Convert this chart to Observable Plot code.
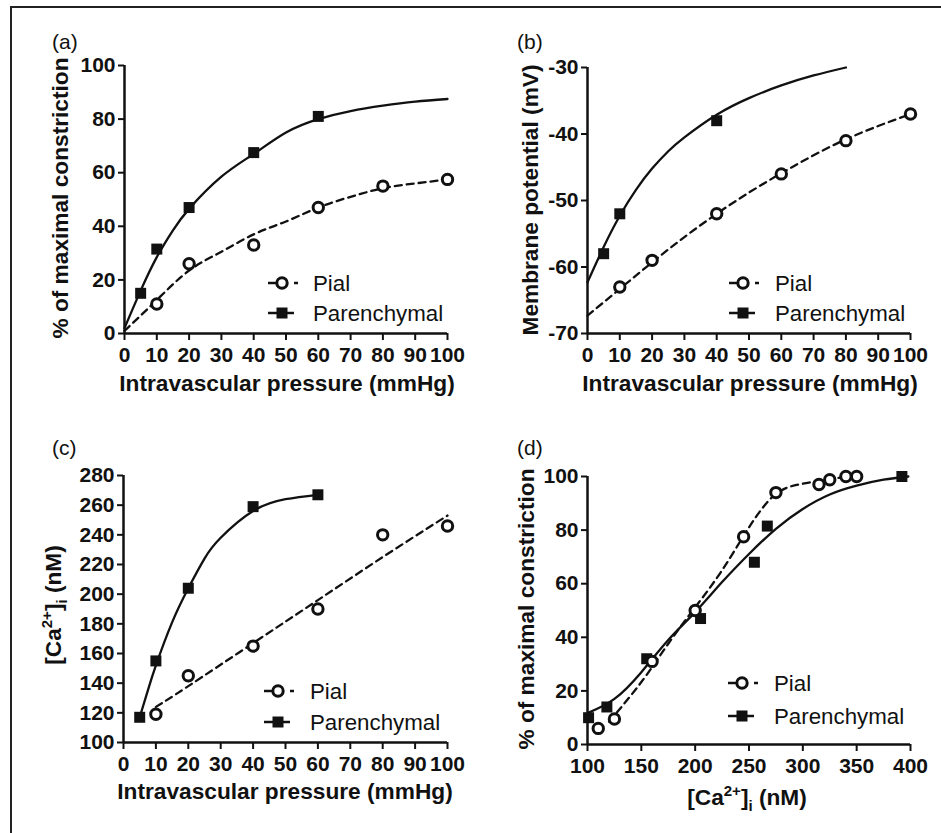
<!DOCTYPE html>
<html>
<head>
<meta charset="utf-8">
<script src="https://cdn.jsdelivr.net/npm/d3@7"></script>
<script src="https://cdn.jsdelivr.net/npm/@observablehq/plot@0.6"></script>
<style>
  html, body { margin: 0; padding: 0; background: #fff; }
  #fig { position: relative; width: 941px; height: 833px; overflow: hidden; font-family: "Liberation Sans", Arial, sans-serif; color: #111; }
  .border { position: absolute; left: 10px; top: 6px; right: -4px; bottom: -4px; border-top: 2.5px solid #222; border-left: 2.5px solid #222; }
  .panel { position: absolute; }
  .letter { position: absolute; font-size: 21px; line-height: 20px; white-space: nowrap; }
  .ytitle, .xtitle { position: absolute; font-size: 22.7px; font-weight: bold; white-space: nowrap; line-height: 22px; }
  .ytitle { transform: translate(-50%, -50%) rotate(-90deg); }
  .xtitle { transform: translate(-50%, -50%); }
  sup, sub { font-size: 15px; line-height: 0; }
  svg.legend { position: absolute; left: 0; top: 0; overflow: visible; }
</style>
</head>
<body>
<div id="fig"><div class="border"></div></div>
<script>
// ---------- Panel (a): % of maximal constriction vs intravascular pressure ----------
const aPialX = [10, 20, 40, 60, 80, 100];
const aPialY = [11, 26, 33, 47, 55, 57.5];
const aParX = [5, 10, 20, 40, 60];
const aParY = [15, 31.5, 47, 67.5, 81];
const aPialFitX = [0, 10, 20, 30, 40, 50, 60, 70, 80, 90, 100];
const aPialFitY = [1, 12.5, 23.5, 30.5, 37, 41.8, 47, 51, 54.2, 56, 57.5];
const aParFitX = [0, 5, 10, 15, 20, 30, 40, 50, 60, 70, 80, 90, 100];
const aParFitY = [2, 16, 28.5, 38.5, 46.5, 58.5, 67, 75, 80, 83, 85, 86.5, 87.5];

// ---------- Panel (b): membrane potential vs intravascular pressure ----------
const bPialX = [10, 20, 40, 60, 80, 100];
const bPialY = [-63, -59, -52, -46, -41, -37];
const bParX = [5, 10, 40];
const bParY = [-58, -52, -38];
const bPialFitX = [0, 10, 20, 30, 40, 50, 60, 70, 80, 90, 100];
const bPialFitY = [-67.3, -63.3, -59.3, -55.5, -52, -48.8, -45.9, -43.2, -40.8, -38.8, -37];
const bParFitX = [0, 5, 10, 15, 20, 25, 30, 40, 50, 60, 70, 80];
const bParFitY = [-62.3, -57, -52.3, -48.4, -45.2, -42.6, -40.5, -37.1, -34.6, -32.7, -31.2, -30];

// ---------- Panel (c): [Ca2+]i vs intravascular pressure ----------
const cPialX = [10, 20, 40, 60, 80, 100];
const cPialY = [119, 145, 165, 190, 240, 246];
const cParX = [5, 10, 20, 40, 60];
const cParY = [117, 155, 204, 259, 267];
const cPialFitX = [10, 20, 40, 60, 80, 100];
const cPialFitY = [124, 138, 167, 196, 225, 253];
const cParFitX = [5, 7.5, 10, 15, 20, 25, 30, 40, 50, 60];
const cParFitY = [117, 135, 152, 181, 204, 224, 238, 256, 264, 267];

// ---------- Panel (d): % of maximal constriction vs [Ca2+]i ----------
const dPialX = [110, 125, 160, 200, 245, 275, 315, 325, 340, 350];
const dPialY = [6, 9.5, 31, 50, 77.5, 94, 97, 98.8, 100, 100];
const dParX = [101, 118, 155, 205, 255, 267, 392];
const dParY = [10, 14, 32, 47, 68, 81.5, 100];
const dPialFitX = [120, 150, 175, 200, 225, 250, 275, 300, 325, 350];
const dPialFitY = [8.5, 23.3, 37.6, 51.2, 65, 81, 93.5, 97.3, 99.1, 100];
const dParFitX = [100, 125, 150, 175, 200, 225, 250, 275, 300, 325, 350, 375, 398];
const dParFitY = [11.7, 17, 27, 39, 49.4, 60.6, 71.1, 80.5, 87.9, 93.3, 96.6, 98.8, 100];

// ---------- Ticks and labels ----------
const pressureTicks = [0, 10, 20, 30, 40, 50, 60, 70, 80, 90, 100];
const aYTicks = [0, 20, 40, 60, 80, 100];
const bYTicks = [-70, -60, -50, -40, -30];
const cYTicks = [100, 120, 140, 160, 180, 200, 220, 240, 260, 280];
const dXTicks = [100, 150, 200, 250, 300, 350, 400];
const dYTicks = [0, 20, 40, 60, 80, 100];
const seriesNames = ["Pial", "Parenchymal"];
const panelLetters = ["(a)", "(b)", "(c)", "(d)"];
const pressureTitle = "Intravascular pressure (mmHg)";
const constrictionTitle = "% of maximal constriction";
const potentialTitle = "Membrane potential (mV)";
const calciumTitleHTML = "[Ca<sup>2+</sup>]<sub>i</sub> (nM)";

const zip = (xs, ys) => xs.map((x, i) => ({x, y: ys[i]}));
const INK = "#111";
const FONT = '"Liberation Sans", Arial, sans-serif';
const TICK_FONT = 21;

const fig = document.getElementById("fig");

function panel(cfg) {
  const div = document.createElement("div");
  div.className = "panel";
  div.style.left = cfg.left + "px";
  div.style.top = cfg.top + "px";
  div.style.width = cfg.width + "px";
  div.style.height = cfg.height + "px";
  fig.appendChild(div);

  const chart = Plot.plot({
    width: cfg.width,
    height: cfg.height,
    marginLeft: cfg.ml, marginRight: cfg.mr, marginTop: cfg.mt, marginBottom: cfg.mb,
    style: {fontFamily: FONT, fontSize: TICK_FONT + "px", fontWeight: "bold", color: INK, background: "transparent", overflow: "visible"},
    x: {domain: cfg.xDomain},
    y: {domain: cfg.yDomain},
    marks: [
      Plot.axisX({ticks: cfg.xTicks, tickSize: 7, tickPadding: 7, strokeWidth: 2, label: null, tickFormat: d => String(d),
        fill: INK, stroke: INK, fontSize: TICK_FONT, fontWeight: "bold", fontFamily: FONT}),
      Plot.axisY({ticks: cfg.yTicks, tickSize: 6, tickPadding: 3, strokeWidth: 2, label: null, tickFormat: d => String(d),
        fill: INK, stroke: INK, fontSize: TICK_FONT, fontWeight: "bold", fontFamily: FONT}),
      Plot.ruleY([cfg.yDomain[0]], {stroke: INK, strokeWidth: 2.5}),
      Plot.ruleX([cfg.xDomain[0]], {stroke: INK, strokeWidth: 2.5}),
      Plot.line(cfg.pialFit, {x: "x", y: "y", curve: "natural", stroke: INK, strokeWidth: 2.3, strokeDasharray: "7,5"}),
      Plot.line(cfg.parFit, {x: "x", y: "y", curve: "natural", stroke: INK, strokeWidth: 2.3}),
      Plot.dot(cfg.par, {x: "x", y: "y", symbol: "square", r: 6.2, fill: INK, stroke: "none"}),
      Plot.dot(cfg.pial, {x: "x", y: "y", r: 5.2, fill: "white", stroke: INK, strokeWidth: 3})
    ]
  });
  div.appendChild(chart);

  // panel letter
  const letter = document.createElement("div");
  letter.className = "letter";
  letter.textContent = cfg.letter;
  letter.style.left = (cfg.letterX - cfg.left) + "px";
  letter.style.top = (cfg.letterY - cfg.top - 10) + "px";
  div.appendChild(letter);

  // y title
  const yt = document.createElement("div");
  yt.className = "ytitle";
  yt.innerHTML = cfg.yTitle;
  yt.style.left = (cfg.yTitleX - cfg.left) + "px";
  yt.style.top = (cfg.yTitleY - cfg.top) + "px";
  div.appendChild(yt);

  // x title
  const xt = document.createElement("div");
  xt.className = "xtitle";
  xt.innerHTML = cfg.xTitle;
  xt.style.left = (cfg.xTitleX - cfg.left) + "px";
  xt.style.top = (cfg.xTitleY - cfg.top) + "px";
  div.appendChild(xt);

  // legend
  const svg = d3.select(div).append("svg")
    .attr("class", "legend")
    .attr("width", cfg.width).attr("height", cfg.height);
  const lx = cfg.legX - cfg.left, y1 = cfg.legY1 - cfg.top, y2 = cfg.legY2 - cfg.top;
  const g = svg.append("g");
  // Pial row
  g.append("line").attr("x1", lx - 14).attr("x2", lx - 5).attr("y1", y1).attr("y2", y1)
    .attr("stroke", INK).attr("stroke-width", 2.5);
  g.append("line").attr("x1", lx + 12).attr("x2", lx + 16).attr("y1", y1).attr("y2", y1)
    .attr("stroke", INK).attr("stroke-width", 2.5);
  g.append("circle").attr("cx", lx).attr("cy", y1).attr("r", 5.2)
    .attr("fill", "white").attr("stroke", INK).attr("stroke-width", 3);
  // Parenchymal row
  g.append("line").attr("x1", lx - 14).attr("x2", lx + 12).attr("y1", y2).attr("y2", y2)
    .attr("stroke", INK).attr("stroke-width", 2.5);
  g.append("rect").attr("x", lx - 5.5).attr("y", y2 - 5.5).attr("width", 11).attr("height", 11)
    .attr("fill", INK);
  [y1, y2].forEach((yy, i) => {
    g.append("text").attr("x", lx + cfg.legGap).attr("y", yy).attr("dy", "0.36em")
      .attr("font-family", FONT)
      .attr("font-size", 22.3).attr("fill", INK).text(seriesNames[i]);
  });
}

panel({
  left: 0, top: 0, width: 470, height: 416, ml: 124, mr: 23, mt: 65, mb: 83,
  xDomain: [0, 100], yDomain: [0, 100], xTicks: pressureTicks, yTicks: aYTicks,
  pial: zip(aPialX, aPialY), par: zip(aParX, aParY),
  pialFit: zip(aPialFitX, aPialFitY), parFit: zip(aParFitX, aParFitY),
  letter: panelLetters[0], letterX: 52, letterY: 42,
  yTitle: constrictionTitle, yTitleX: 60, yTitleY: 198,
  xTitle: pressureTitle, xTitleX: 287, xTitleY: 383,
  legX: 282, legY1: 283, legY2: 313, legGap: 31
});

panel({
  left: 470, top: 0, width: 471, height: 416, ml: 117, mr: 31, mt: 67, mb: 83,
  xDomain: [0, 100], yDomain: [-70, -30], xTicks: pressureTicks, yTicks: bYTicks,
  pial: zip(bPialX, bPialY), par: zip(bParX, bParY),
  pialFit: zip(bPialFitX, bPialFitY), parFit: zip(bParFitX, bParFitY),
  letter: panelLetters[1], letterX: 517, letterY: 42,
  yTitle: potentialTitle, yTitleX: 530, yTitleY: 200,
  xTitle: pressureTitle, xTitleX: 750, xTitleY: 383,
  legX: 743, legY1: 283, legY2: 313, legGap: 32
});

panel({
  left: 0, top: 416, width: 470, height: 417, ml: 123, mr: 23, mt: 59, mb: 91,
  xDomain: [0, 100], yDomain: [100, 280], xTicks: pressureTicks, yTicks: cYTicks,
  pial: zip(cPialX, cPialY), par: zip(cParX, cParY),
  pialFit: zip(cPialFitX, cPialFitY), parFit: zip(cParFitX, cParFitY),
  letter: panelLetters[2], letterX: 52, letterY: 448,
  yTitle: calciumTitleHTML, yTitleX: 53, yTitleY: 605,
  xTitle: pressureTitle, xTitleX: 285, xTitleY: 791,
  legX: 278, legY1: 691, legY2: 722, legGap: 32
});

panel({
  left: 470, top: 416, width: 471, height: 417, ml: 117, mr: 31, mt: 60, mb: 89,
  xDomain: [100, 400], yDomain: [0, 100], xTicks: dXTicks, yTicks: dYTicks,
  pial: zip(dPialX, dPialY), par: zip(dParX, dParY),
  pialFit: zip(dPialFitX, dPialFitY), parFit: zip(dParFitX, dParFitY),
  letter: panelLetters[3], letterX: 517, letterY: 448,
  yTitle: constrictionTitle, yTitleX: 526, yTitleY: 609,
  xTitle: calciumTitleHTML, xTitleX: 747, xTitleY: 797,
  legX: 742, legY1: 683, legY2: 716, legGap: 32
});
</script>
</body>
</html>
